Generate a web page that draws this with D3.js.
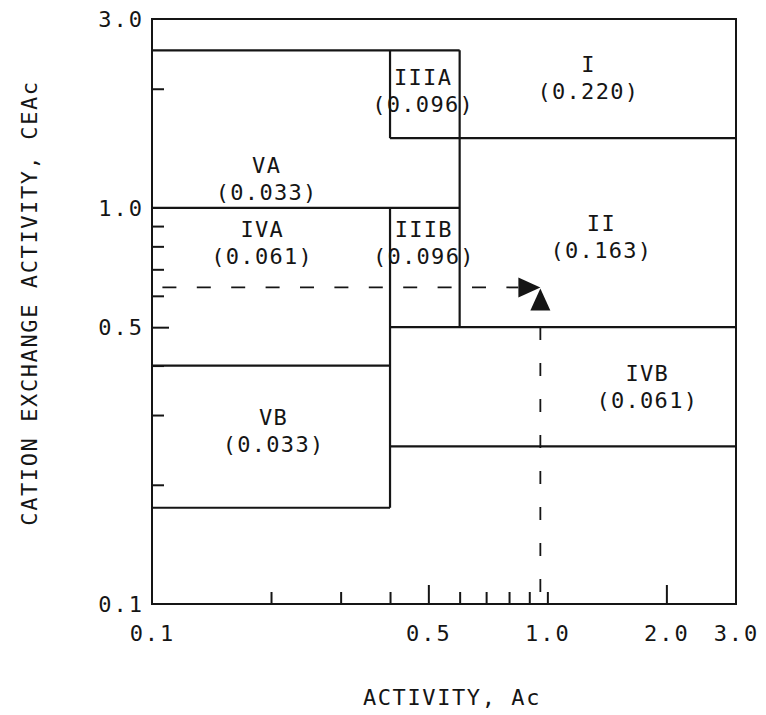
<!DOCTYPE html>
<html><head><meta charset="utf-8">
<script src="https://cdn.jsdelivr.net/npm/d3@7"></script>
<style>body{margin:0;background:#fff}</style>
</head><body><svg id="c" width="766" height="715"></svg>
<script>
// ---- data ----
const xDomain = [0.1, 3.0];
const yDomain = [0.1, 3.0];
const xTickLabels = [0.1, 0.5, 1.0, 2.0, 3.0];
const yTickLabels = [0.1, 0.5, 1.0, 3.0];
const xMajorTicks = [0.5, 2.0];
const xMinorTicks = [0.2, 0.3, 0.4, 0.6, 0.7, 0.8, 0.9, 1.0];
const yMajorTicks = [0.5];
const yMinorTicks = [0.2, 0.3, 0.4, 0.6, 0.7, 0.8, 0.9, 2.0];
// region boundaries: horizontal [CEAc, Ac1, Ac2], vertical [Ac, CEAc1, CEAc2]
const hBoundaries = [[2.5,0.1,0.6],[1.5,0.4,3.0],[1.0,0.1,0.6],[0.5,0.4,3.0],[0.4,0.1,0.4],[0.25,0.4,3.0],[0.175,0.1,0.4]];
const vBoundaries = [[0.4,1.5,2.5],[0.4,0.175,1.0],[0.6,0.5,2.5]];
const regionNames  = ["I","II","IIIA","IIIB","IVA","IVB","VA","VB"];
const regionValues = [0.220,0.163,0.096,0.096,0.061,0.061,0.033,0.033];
const regionLabelAc   = [1.27,1.37,0.485,0.487,0.19,1.79,0.195,0.203];
const regionLabelCEAc = [2.13,0.845,1.97,0.816,0.816,0.354,1.18,0.273];
const sampleAc = 0.96, sampleCEAc = 0.63;
const xTitle = "ACTIVITY, Ac";
const yTitle = "CATION EXCHANGE ACTIVITY, CEAc";

// ---- drawing ----
const svg = d3.select("#c");
const x = d3.scaleLog().domain(xDomain).range([152, 736]);
const y = d3.scaleLog().domain(yDomain).range([604, 19]);
const font = "'DejaVu Sans Mono', monospace";
const ink = "#151515";
const fmt1 = d3.format(".1f"), fmt3 = d3.format(".3f");

function styleAxis(g){
  g.select(".domain").remove();
  g.attr("color", ink);
  g.selectAll("line").attr("stroke-width", 2);
  g.selectAll("text").attr("font-family", font).attr("font-size", 22)
    .attr("letter-spacing", 2).attr("fill", ink);
}
svg.append("g").attr("transform","translate(0,604)")
  .call(d3.axisBottom(x).tickValues(xTickLabels).tickFormat(fmt1).tickSize(0).tickPadding(21)).call(styleAxis);
svg.append("g").attr("transform","translate(0,604)")
  .call(d3.axisBottom(x).tickValues(xMajorTicks).tickFormat("").tickSize(-19)).call(styleAxis);
svg.append("g").attr("transform","translate(0,604)")
  .call(d3.axisBottom(x).tickValues(xMinorTicks).tickFormat("").tickSize(-12)).call(styleAxis);
svg.append("g").attr("transform","translate(152,0)")
  .call(d3.axisLeft(y).tickValues(yTickLabels).tickFormat(fmt1).tickSize(0).tickPadding(8)).call(styleAxis);
svg.append("g").attr("transform","translate(152,0)")
  .call(d3.axisLeft(y).tickValues(yMajorTicks).tickFormat("").tickSize(-17)).call(styleAxis);
svg.append("g").attr("transform","translate(152,0)")
  .call(d3.axisLeft(y).tickValues(yMinorTicks).tickFormat("").tickSize(-12)).call(styleAxis);

// frame
svg.append("rect")
  .attr("x", x(xDomain[0])).attr("y", y(yDomain[1]))
  .attr("width", x(xDomain[1]) - x(xDomain[0])).attr("height", y(yDomain[0]) - y(yDomain[1]))
  .attr("fill","none").attr("stroke", ink).attr("stroke-width", 2);

// region boundaries
svg.append("g").selectAll("line").data(hBoundaries).join("line")
  .attr("x1", d => x(d[1])).attr("x2", d => x(d[2]))
  .attr("y1", d => y(d[0])).attr("y2", d => y(d[0]))
  .attr("stroke", ink).attr("stroke-width", 2.2);
svg.append("g").selectAll("line").data(vBoundaries).join("line")
  .attr("x1", d => x(d[0])).attr("x2", d => x(d[0]))
  .attr("y1", d => y(d[1])).attr("y2", d => y(d[2]))
  .attr("stroke", ink).attr("stroke-width", 2.2);

// sample point dashed guides with arrows
const px = x(sampleAc), py = y(sampleCEAc);
svg.append("line").attr("x1", x(xDomain[0])).attr("x2", px - 22).attr("y1", py).attr("y2", py)
  .attr("stroke", ink).attr("stroke-width", 1.8).attr("stroke-dasharray","14,20.4").attr("stroke-dashoffset", 24);
svg.append("line").attr("x1", px).attr("x2", px).attr("y1", y(yDomain[0])).attr("y2", py + 24)
  .attr("stroke", ink).attr("stroke-width", 1.8).attr("stroke-dasharray","13,23").attr("stroke-dashoffset", 24);
svg.append("path").attr("d", `M${px},${py} L${px-22},${py-10} L${px-22},${py+10} Z`).attr("fill", ink);
svg.append("path").attr("d", `M${px},${py+1} L${px-10},${py+23} L${px+10},${py+23} Z`).attr("fill", ink);

// region labels
const lab = svg.append("g").attr("font-family", font).attr("font-size", 22)
  .attr("letter-spacing", 1.3).attr("fill", ink).attr("text-anchor","middle");
regionNames.forEach((n, i) => {
  const cx = x(regionLabelAc[i]), cy = y(regionLabelCEAc[i]);
  lab.append("text").attr("x", cx).attr("y", cy - 6).text(n);
  lab.append("text").attr("x", cx).attr("y", cy + 21).text("(" + fmt3(regionValues[i]) + ")");
});

// axis titles
svg.append("text").attr("x", 452).attr("y", 705).attr("text-anchor","middle")
  .attr("font-family", font).attr("font-size", 22).attr("letter-spacing", 1.6).attr("fill", ink).text(xTitle);
svg.append("text").attr("transform","translate(37,303) rotate(-90)").attr("text-anchor","middle")
  .attr("font-family", font).attr("font-size", 22).attr("letter-spacing", 1.6).attr("fill", ink).text(yTitle);
</script>
</body></html>
